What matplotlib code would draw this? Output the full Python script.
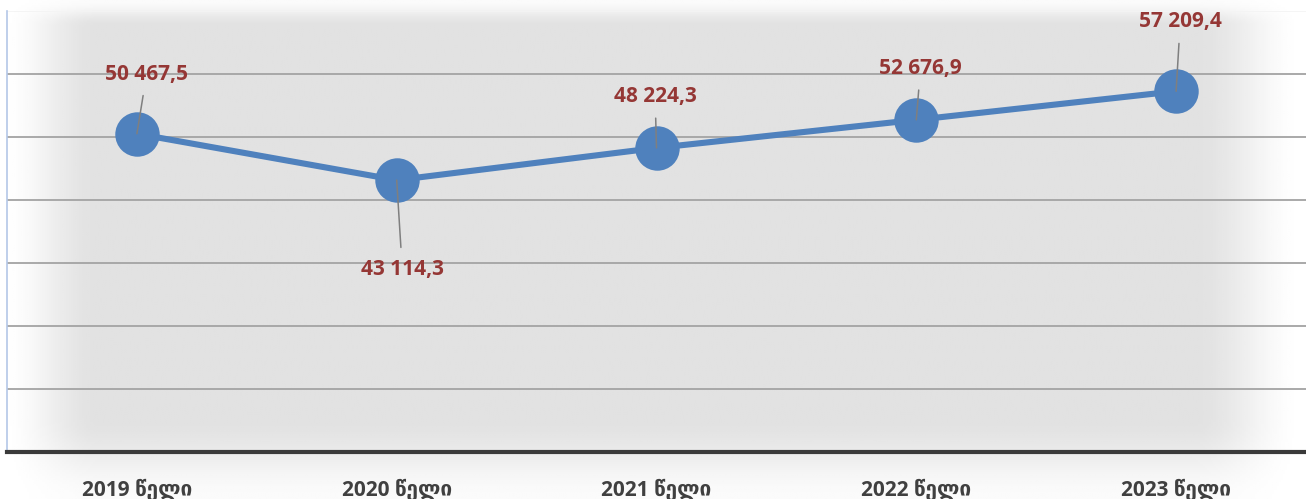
import numpy as np
import matplotlib
matplotlib.use("Agg")
import matplotlib.pyplot as plt

# Data
years = ["2019 წელი", "2020 წელი", "2021 წელი", "2022 წელი", "2023 წელი"]
values = [50467.5, 43114.3, 48224.3, 52676.9, 57209.4]
labels = ["50 467,5", "43 114,3", "48 224,3", "52 676,9", "57 209,4"]
# label offsets (points) relative to each marker
label_offsets = [(7, 43), (4, -64), (-1, 37), (3, 37), (3, 50)]

plt.rcParams['font.family'] = ['Open Sans', 'DejaVu Sans']

W, H, DPI = 1306, 499, 100
fig = plt.figure(figsize=(W / DPI, H / DPI), dpi=DPI)


def smooth(t):
    t = np.clip(t, 0, 1)
    return t * t * (3 - 2 * t)


# soft grey vignette background across the whole figure
bg = fig.add_axes([0, 0, 1, 1])
bg.set_axis_off()
xs = np.linspace(0, 1, 600)
ys = np.linspace(1, 0, 250)   # row 0 = top
X, Y = np.meshgrid(xs, ys)
fx = smooth(np.minimum(X / 0.075, (1 - X) / 0.085))
fy = smooth(np.minimum(Y / 0.16, (1 - Y) / 0.05))
shade = 1 - 0.115 * fx * (0.15 + 0.85 * fy)
bg.imshow(shade, cmap="gray", vmin=0, vmax=1, aspect="auto",
          extent=[0, 1, 0, 1], interpolation="bilinear")
bg.set_xlim(0, 1)
bg.set_ylim(0, 1)

ax = fig.add_axes([7 / W, 1 - 452 / H, 1 - 7 / W, (452 - 10.6) / H])
ax.patch.set_alpha(0)
ax.set_xlim(-0.5, 4.5)
ax.set_ylim(0, 70000)

# gridlines
for g in range(10000, 70001, 10000):
    col = "#f4f4f4" if g == 70000 else "#a3a3a3"
    ax.axhline(g, color=col, lw=1.3, zorder=1)

x = np.arange(len(years))
ax.plot(x, values, color="#4f81bd", lw=4.4, zorder=3,
        marker="o", markersize=32, markeredgewidth=0,
        solid_capstyle="round")

for xi, v, lab, off in zip(x, values, labels, label_offsets):
    ax.annotate(lab, xy=(xi, v), xytext=off, textcoords="offset points",
                ha="center", va="center", fontsize=15, fontweight="bold",
                color="#953735", zorder=5,
                arrowprops=dict(arrowstyle="-", color="#7f7f7f", lw=1.1,
                                shrinkA=6, shrinkB=0))

ax.set_xticks(x)
ax.set_xticklabels(years, fontsize=15, fontweight="bold", color="#404040")
ax.tick_params(axis="x", length=0, pad=19)
ax.set_yticks([])

for s in ["top", "right"]:
    ax.spines[s].set_visible(False)
ax.spines["left"].set_color("#b4c7e7")
ax.spines["left"].set_linewidth(1.2)
ax.spines["bottom"].set_color("#3a3a3a")
ax.spines["bottom"].set_linewidth(3)

fig.savefig("out.png", dpi=DPI)
